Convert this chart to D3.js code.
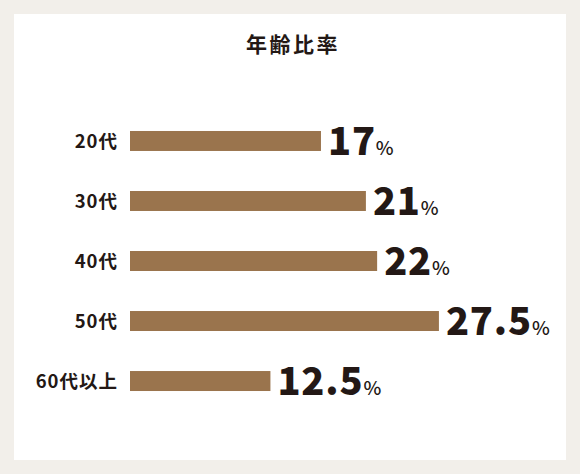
<!DOCTYPE html>
<html><head><meta charset="utf-8">
<script src="https://cdn.jsdelivr.net/npm/d3@7"></script>
<style>
html,body{margin:0;padding:0;background:#f2efea;}
svg{display:block;font-family:"Noto Sans CJK JP","Noto Sans",sans-serif;}
</style></head>
<body>
<svg id="c" width="580" height="474"></svg>
<script>
const title = "年齢比率";
const categories = ["20代","30代","40代","50代","60代以上"];
const values = [17, 21, 22, 27.5, 12.5];
const valueLabels = ["17","21","22","27.5","12.5"];

const svg = d3.select("#c");
svg.append("rect").attr("x",14).attr("y",14).attr("width",552).attr("height",446).attr("fill","#ffffff");

svg.append("text").attr("x",293).attr("y",52).attr("text-anchor","middle")
  .attr("font-size",21).attr("font-weight",700).attr("letter-spacing",2.5).attr("fill","#231815").text(title);

const x = d3.scaleLinear().domain([0,30]).range([130,467]);
const y = d3.scaleBand().domain(categories).range([111,411]).paddingInner(0.667).paddingOuter(0.333);

const g = svg.append("g");
const rows = g.selectAll("g.row").data(categories.map((c,i)=>({c, v:values[i], l:valueLabels[i]})))
  .enter().append("g").attr("class","row");

rows.append("rect").attr("x",x(0)).attr("y",d=>y(d.c)).attr("width",d=>x(d.v)-x(0))
  .attr("height",y.bandwidth()).attr("fill","#9a744d");

const yAxis = d3.axisLeft(y).tickSize(0).tickPadding(12);
const ax = svg.append("g").attr("transform",`translate(${x(0)},0)`).call(yAxis);
ax.select(".domain").remove();
ax.selectAll("text").attr("font-size",18.5).attr("font-weight",700).attr("fill","#231815")
  .attr("letter-spacing",1).attr("dy","0.38em")
  .attr("font-family","'Noto Sans CJK JP','Noto Sans',sans-serif");

const vt = rows.append("text").attr("x",d=>x(d.v)+7).attr("y",d=>y(d.c)+y.bandwidth()/2+14)
  .attr("fill","#231815");
vt.append("tspan").attr("font-size",38).attr("font-weight",900).attr("letter-spacing",0.8).text(d=>d.l);
vt.append("tspan").attr("font-size",19).attr("font-weight",500).attr("dx",0).text("%");
</script>
</body></html>
